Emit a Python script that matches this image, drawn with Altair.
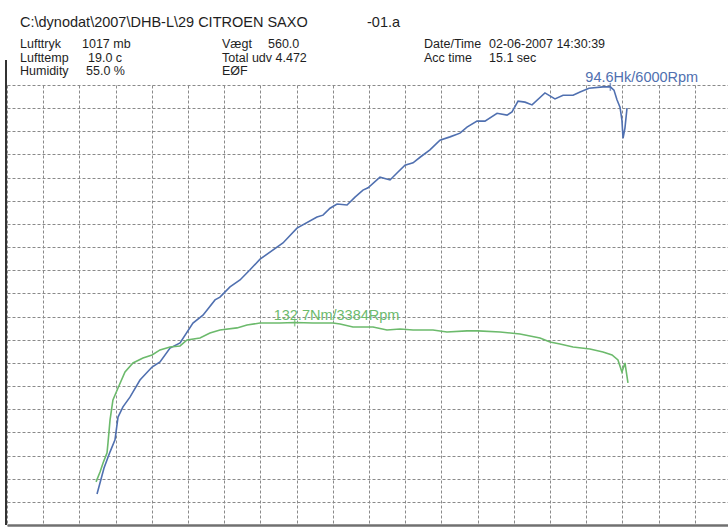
import altair as alt
import pandas as pd

# ---- data read from the dyno sheet ----
power_rpm = [1746, 1804, 1854, 1895, 1920, 1961, 2019, 2102, 2202, 2268, 2351, 2434,
             2541, 2624, 2724, 2765, 2848, 2931, 3014, 3097, 3287, 3403, 3569, 3619,
             3677, 3735, 3818, 3884, 3950, 3992, 4091, 4174, 4232, 4298, 4365, 4423,
             4505, 4588, 4671, 4754, 4812, 4895, 4961, 5061, 5144, 5185, 5235, 5293,
             5351, 5458, 5541, 5608, 5691, 5749, 5823, 5939, 6000, 6030, 6055, 6080,
             6096, 6105, 6121, 6138]
power_hk = [6.7, 12.3, 15.8, 18.4, 23.3, 25.5, 27.6, 31.3, 34.1, 35.2, 38.2, 39.3,
            43.6, 45.3, 48.6, 49.2, 51.4, 52.9, 55.1, 57.4, 60.9, 64.1, 66.5, 66.9,
            68.4, 69.3, 69.1, 70.8, 72.3, 72.8, 75.1, 74.5, 76.0, 77.7, 78.2, 79.4,
            81.0, 83.1, 83.8, 84.6, 85.9, 87.2, 87.2, 88.9, 88.5, 89.2, 91.5, 91.3,
            90.7, 93.3, 92.0, 92.8, 92.8, 93.5, 94.3, 94.6, 94.6, 93.9, 91.8, 90.2,
            87.4, 83.5, 85.7, 90.0]

torque_rpm = [1738, 1771, 1796, 1829, 1837, 1854, 1878, 1920, 1978, 2044, 2127, 2202,
              2268, 2351, 2434, 2492, 2599, 2682, 2765, 2906, 2989, 3097, 3262, 3384,
              3536, 3702, 3760, 3867, 4033, 4149, 4257, 4365, 4530, 4646, 4812, 4903,
              5086, 5251, 5417, 5500, 5583, 5691, 5831, 5939, 6014, 6063, 6096, 6121,
              6146]
torque_nm = [16.1, 23.4, 30.0, 37.3, 44.6, 61.4, 76.0, 84.8, 96.5, 103.1, 106.7, 108.9,
             112.6, 114.8, 115.5, 119.9, 121.3, 125.0, 127.2, 128.7, 130.8, 132.3, 132.3, 132.7,
             132.3, 132.3, 131.6, 129.4, 129.4, 127.2, 127.9, 127.2, 127.2, 125.7, 126.5, 126.5,
             125.7, 124.3, 121.3, 118.4, 117.0, 114.8, 113.3, 111.1, 108.9, 105.3, 96.5, 103.1,
             88.5]

peak_power_rpm = [6000]
peak_power_val = [94.6]
peak_power_label = ["94.6Hk/6000Rpm"]
peak_torque_rpm = [3384]
peak_torque_val = [132.7]
peak_torque_label = ["132.7Nm/3384Rpm"]

rpm_grid = list(range(1000, 7000, 300))
power_grid = list(range(0, 100, 5))

header_texts = [
    "C:\\dynodat\\2007\\DHB-L\\29 CITROEN SAXO", "-01.a",
    "Lufttryk", "1017 mb", "Lufttemp", "19.0 c", "Humidity", "55.0 %",
    "Vægt", "560.0", "Total udv 4.472", "EØF",
    "Date/Time", "02-06-2007 14:30:39", "Acc time", "15.1 sec",
]
# page positions (x, baseline y) and font sizes of the header items
header_pos = [(20, 27), (367, 27),
              (20, 48), (82, 48), (20, 61.5), (88, 61.5), (20, 75), (86, 75),
              (222, 48), (268, 48), (222, 61.5), (222, 75),
              (424, 48), (489, 48), (424, 61.5), (489, 61.5)]
header_size = [14.5, 14.5] + [12.5] * 14

PAD_L, PAD_T = 7, 85
W, H = 721, 440
BLUE = "#5070b0"
GREEN = "#6cba6c"
FONT = "Liberation Sans"

power_df = pd.DataFrame({"rpm": power_rpm, "hk": power_hk, "i": range(len(power_rpm))})
torque_df = pd.DataFrame({"rpm": torque_rpm, "nm": torque_nm, "i": range(len(torque_rpm))})
ppeak = pd.DataFrame({"rpm": peak_power_rpm, "hk": peak_power_val, "label": peak_power_label})
tpeak = pd.DataFrame({"rpm": peak_torque_rpm, "nm": peak_torque_val, "label": peak_torque_label})

xscale = alt.Scale(domain=[1000, 6975], nice=False, zero=False)
pscale = alt.Scale(domain=[0, 95], nice=False, zero=False)
tscale = alt.Scale(domain=[-15.4, 306.3], nice=False, zero=False)

xaxis = alt.Axis(values=rpm_grid, grid=True, labels=False, ticks=False, title=None,
                 domain=True, domainColor="#707070", domainWidth=2.5,
                 gridColor="#8a8a8a", gridDash=[3, 2], gridWidth=1)
paxis = alt.Axis(values=power_grid, grid=True, labels=False, ticks=False, title=None,
                 domain=False, gridColor="#8a8a8a", gridDash=[3, 2], gridWidth=1)

X = alt.X("rpm:Q", scale=xscale, axis=xaxis)

power_line = alt.Chart(power_df).mark_line(color=BLUE, strokeWidth=1.6).encode(
    x=X, y=alt.Y("hk:Q", scale=pscale, axis=paxis), order="i:Q")
power_tick = alt.Chart(ppeak).mark_tick(color=BLUE, size=8, thickness=1.5, orient="vertical").encode(
    x=X, y=alt.Y("hk:Q", scale=pscale, axis=paxis))
power_text = alt.Chart(ppeak).mark_text(color=BLUE, font=FONT, fontSize=14.5, align="left",
                                        baseline="alphabetic", dx=-25, dy=-5).encode(
    x=X, y=alt.Y("hk:Q", scale=pscale, axis=paxis), text="label:N")
power_layer = alt.layer(power_line, power_tick, power_text)

torque_line = alt.Chart(torque_df).mark_line(color=GREEN, strokeWidth=1.6).encode(
    x=X, y=alt.Y("nm:Q", scale=tscale, axis=None), order="i:Q")
torque_tick = alt.Chart(tpeak).mark_tick(color=GREEN, size=8, thickness=1.5, orient="vertical").encode(
    x=X, y=alt.Y("nm:Q", scale=tscale, axis=None))
torque_text = alt.Chart(tpeak).mark_text(color=GREEN, font=FONT, fontSize=14.5, align="left",
                                         baseline="alphabetic", dx=-21, dy=-2.5).encode(
    x=X, y=alt.Y("nm:Q", scale=tscale, axis=None), text="label:N")
torque_layer = alt.layer(torque_line, torque_tick, torque_text)

left_border = alt.Chart(pd.DataFrame({"a": [0]})).mark_rule(color="#333333", strokeWidth=2).encode(
    x=alt.value(-1), y=alt.value(-25), y2=alt.value(H))

header_layers = []
for txt, (px, py), fs in zip(header_texts, header_pos, header_size):
    header_layers.append(
        alt.Chart(pd.DataFrame({"t": [txt]})).mark_text(
            font=FONT, fontSize=fs, color="#1e1e1e", align="left", baseline="alphabetic"
        ).encode(x=alt.value(px - PAD_L), y=alt.value(py - PAD_T), text="t:N")
    )

chart = alt.layer(power_layer, torque_layer, left_border, *header_layers).resolve_scale(
    y="independent"
).properties(
    width=W, height=H,
    autosize=alt.AutoSizeParams(type="none"),
    padding={"left": PAD_L, "top": PAD_T, "right": 0, "bottom": 2},
    background="white",
).configure_view(stroke=None)

chart.save("out.html", embed_options={"renderer": "svg", "actions": False})
